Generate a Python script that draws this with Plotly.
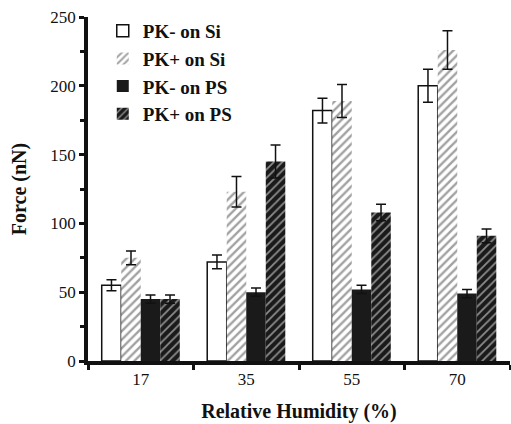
import plotly.graph_objects as go

categories = ["17", "35", "55", "70"]
series_names = ["PK- on Si", "PK+ on Si", "PK- on PS", "PK+ on PS"]
pk_minus_si = [55, 72, 182, 200]
pk_minus_si_err = [4, 5, 9, 12]
pk_plus_si = [75, 123, 189, 226]
pk_plus_si_err = [5, 11, 12, 14]
pk_minus_ps = [45, 50, 52, 49]
pk_minus_ps_err = [3, 3, 3, 3]
pk_plus_ps = [45, 145, 108, 91]
pk_plus_ps_err = [3, 12, 6, 5]
y_ticks = [0, 50, 100, 150, 200, 250]

values = [pk_minus_si, pk_plus_si, pk_minus_ps, pk_plus_ps]
errors = [pk_minus_si_err, pk_plus_si_err, pk_minus_ps_err, pk_plus_ps_err]

markers = [
    dict(color="white", line=dict(color="#111", width=1.5)),
    dict(color="white", line=dict(color="white", width=0),
         pattern=dict(shape="/", fgcolor="#444", bgcolor="white", size=6, solidity=0.4)),
    dict(color="#1a1a1a", line=dict(color="#1a1a1a", width=0)),
    dict(color="#1a1a1a", line=dict(color="#1a1a1a", width=0),
         pattern=dict(shape="/", fgcolor="white", bgcolor="#1a1a1a", size=6, solidity=0.3)),
]

SERIF = "Liberation Serif, Times New Roman, Times, serif"

fig = go.Figure()
for i, name in enumerate(series_names):
    fig.add_trace(go.Bar(
        x=categories, y=values[i], name=name, marker=markers[i],
        legendgroup=name,
        error_y=dict(type="data", array=errors[i], color="#111", thickness=1.5, width=5),
    ))

fig.update_layout(
    width=511, height=424,
    margin=dict(l=88, r=1, t=17, b=63),
    paper_bgcolor="white", plot_bgcolor="white",
    barmode="group", bargap=0.26, bargroupgap=0,
    font=dict(family=SERIF, color="#111", size=17),
    showlegend=True,
    legend=dict(x=0.035, y=1.015, xanchor="left", yanchor="top",
                font=dict(family=SERIF, size=19, color="#111", weight="bold"),
                tracegroupgap=0, itemwidth=30, bgcolor="rgba(0,0,0,0)", traceorder="normal"),
    xaxis=dict(
        type="category", range=[-0.5, 3.5], tickson="boundaries",
        ticks="outside", ticklen=5, tickwidth=3, tickcolor="#111",
        showline=True, linewidth=3.5, linecolor="#111", showgrid=False,
        tickfont=dict(family=SERIF, size=17),
        title=dict(text="<b>Relative Humidity (%)</b>", font=dict(family=SERIF, size=20), standoff=17),
    ),
    yaxis=dict(
        range=[0, 250], tickvals=y_ticks, ticks="outside", ticklen=5, tickwidth=3,
        tickcolor="#111", showline=True, linewidth=3.5, linecolor="#111",
        showgrid=False, zeroline=False, tickfont=dict(family=SERIF, size=17),
        minor=dict(dtick=25, ticks="outside", ticklen=4, tickwidth=2.5, tickcolor="#111"),
        title=dict(text="<b>Force (nN)</b>", font=dict(family=SERIF, size=20), standoff=19),
    ),
)

fig.write_html("out.html", config={"displayModeBar": False},
               post_script="document.body.style.margin='0';")
